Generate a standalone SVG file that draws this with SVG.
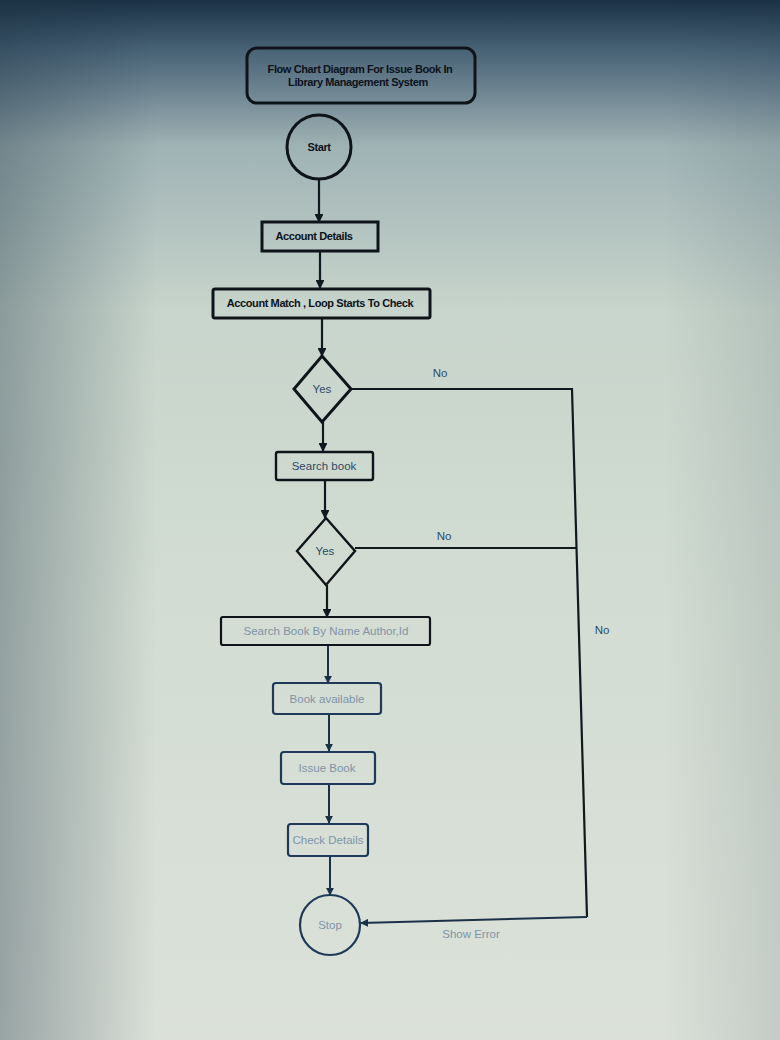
<svg xmlns="http://www.w3.org/2000/svg" width="780" height="1040" viewBox="0 0 780 1040">
<defs>
<linearGradient id="bg" x1="0" y1="0" x2="0" y2="1">
<stop offset="0" stop-color="#1b3246"/>
<stop offset="0.05" stop-color="#4a6478"/>
<stop offset="0.14" stop-color="#9fb2b4"/>
<stop offset="0.3" stop-color="#c8d5cc"/>
<stop offset="0.6" stop-color="#d3ddd3"/>
<stop offset="1" stop-color="#dbe1d9"/>
</linearGradient>
<linearGradient id="side" x1="0" y1="0" x2="1" y2="0">
<stop offset="0" stop-color="#1a3040" stop-opacity="0.35"/>
<stop offset="0.2" stop-color="#1a3040" stop-opacity="0"/>
<stop offset="0.85" stop-color="#1a3040" stop-opacity="0"/>
<stop offset="1" stop-color="#1a3040" stop-opacity="0.12"/>
</linearGradient>
<marker id="ah" viewBox="0 0 10 10" refX="9" refY="5" markerWidth="4" markerHeight="4" orient="auto">
<path d="M0,0 L10,5 L0,10 z" fill="#101820"/>
</marker>
<marker id="ahb" viewBox="0 0 10 10" refX="9" refY="5" markerWidth="4" markerHeight="4" orient="auto">
<path d="M0,0 L10,5 L0,10 z" fill="#1b3148"/>
</marker>
</defs>
<style>
.dk{fill:none;stroke:#0e141a;stroke-width:3}
.bl{fill:none;stroke:#1e3a58;stroke-width:2.2}
.t1{font-family:"Liberation Sans",Arial,sans-serif;font-weight:bold;font-size:11px;letter-spacing:-0.4px;fill:#0c121a;text-anchor:middle}
.t2{font-family:"Liberation Sans",Arial,sans-serif;font-size:11.5px;fill:#2e4a66;text-anchor:middle}
.t3{font-family:"Liberation Sans",Arial,sans-serif;font-size:11.5px;fill:#7f93a8;text-anchor:middle}
.cn{fill:none;stroke:#101820;stroke-width:2.2}
.cb{fill:none;stroke:#1b3148;stroke-width:2}
</style>
<rect width="780" height="1040" fill="url(#bg)"/>
<rect width="780" height="1040" fill="url(#side)"/>

<g id="connectors">
<line class="cn" x1="319" y1="180" x2="319" y2="222" marker-end="url(#ah)"/>
<line class="cn" x1="320" y1="251" x2="320" y2="288" marker-end="url(#ah)"/>
<line class="cn" x1="322" y1="318" x2="322" y2="356" marker-end="url(#ah)"/>
<line class="cn" x1="323" y1="422" x2="323" y2="451" marker-end="url(#ah)"/>
<line class="cn" x1="325" y1="480" x2="325" y2="518" marker-end="url(#ah)"/>
<line class="cn" x1="327" y1="585" x2="327" y2="617" marker-end="url(#ah)"/>
<line class="cb" x1="328" y1="645" x2="328" y2="683" marker-end="url(#ahb)"/>
<line class="cb" x1="329" y1="714" x2="329" y2="751" marker-end="url(#ahb)"/>
<line class="cb" x1="329" y1="784" x2="329" y2="823" marker-end="url(#ahb)"/>
<line class="cb" x1="330" y1="856" x2="330" y2="895" marker-end="url(#ahb)"/>
<polyline class="cn" points="351,389 572,389 587,917"/>
<line class="cn" x1="355" y1="548" x2="577" y2="548"/>
<line class="cb" x1="587" y1="917" x2="361" y2="923" marker-end="url(#ahb)"/>
<text class="t2" x="440" y="377">No</text>
<text class="t2" x="444" y="540">No</text>
<text class="t2" x="602" y="634">No</text>
<text class="t3" x="471" y="938">Show Error</text>
</g>

<g id="title">
<rect class="dk" x="247" y="48" width="228" height="55" rx="10"/>
<text class="t1" x="360" y="73">Flow Chart Diagram For Issue Book  In</text>
<text class="t1" x="358" y="86">Library Management System</text>
</g>
<g id="start">
<circle class="dk" cx="319" cy="147" r="32"/>
<text class="t1" x="319" y="151">Start</text>
</g>
<g id="account-details">
<rect class="dk" x="262" y="222" width="116" height="29"/>
<text class="t1" x="314" y="240">Account Details</text>
</g>
<g id="account-match">
<rect class="dk" x="213" y="289" width="217" height="29" rx="2"/>
<text class="t1" x="320" y="307">Account Match , Loop Starts To Check</text>
</g>
<g id="decision1">
<polygon class="dk" points="322,356 351,389 322,422 294,389"/>
<text class="t2" x="322" y="393">Yes</text>
</g>
<g id="search-book">
<rect class="dk" x="276" y="452" width="97" height="28" rx="2" style="stroke-width:2.4"/>
<text class="t2" x="324" y="470">Search book</text>
</g>
<g id="decision2">
<polygon class="dk" points="326,518 355,551 326,585 297,551" style="stroke-width:2.4"/>
<text class="t2" x="325" y="555">Yes</text>
</g>
<g id="search-by-name">
<rect class="dk" x="221" y="617" width="209" height="28" rx="2" style="stroke-width:2.2"/>
<text class="t3" x="326" y="635">Search Book By Name Author,Id</text>
</g>
<g id="book-available">
<rect class="bl" x="273" y="683" width="108" height="31" rx="3"/>
<text class="t3" x="327" y="703">Book available</text>
</g>
<g id="issue-book">
<rect class="bl" x="281" y="752" width="94" height="32" rx="3"/>
<text class="t3" x="327" y="772">Issue Book</text>
</g>
<g id="check-details">
<rect class="bl" x="288" y="824" width="80" height="32" rx="3"/>
<text class="t3" x="328" y="844">Check Details</text>
</g>
<g id="stop">
<circle class="bl" cx="330" cy="925" r="30"/>
<text class="t3" x="330" y="929">Stop</text>
</g>
</svg>
